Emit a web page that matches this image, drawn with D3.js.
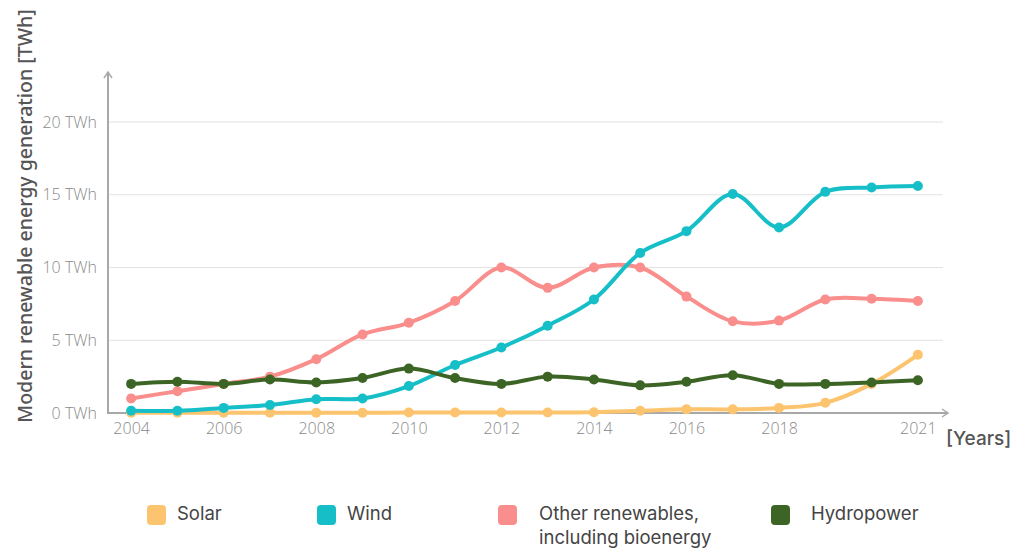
<!DOCTYPE html>
<html>
<head>
<meta charset="utf-8">
<script src="https://cdn.jsdelivr.net/npm/d3@7/dist/d3.min.js"></script>
<style>
  html, body { margin: 0; padding: 0; background: #ffffff; }
  svg { display: block; }
</style>
</head>
<body>
<svg id="chart" width="1011" height="548"></svg>
<script>
// Annual generation, TWh
const years = [2004, 2005, 2006, 2007, 2008, 2009, 2010, 2011, 2012,
               2013, 2014, 2015, 2016, 2017, 2018, 2019, 2020, 2021];
const solar = [0.02, 0.02, 0.02, 0.02, 0.02, 0.02, 0.03, 0.03, 0.04,
               0.04, 0.05, 0.15, 0.25, 0.25, 0.35, 0.7, 2.0, 4.0];
const wind = [0.15, 0.15, 0.35, 0.55, 0.95, 1.0, 1.85, 3.3, 4.5,
              6.0, 7.8, 11.0, 12.5, 15.05, 12.75, 15.2, 15.5, 15.6];
const other = [1.0, 1.5, 2.0, 2.5, 3.7, 5.4, 6.2, 7.7, 10.0,
               8.6, 10.0, 10.0, 8.0, 6.3, 6.35, 7.8, 7.85, 7.7];
const hydro = [2.0, 2.15, 2.0, 2.3, 2.1, 2.4, 3.05, 2.4, 2.0,
               2.5, 2.3, 1.9, 2.15, 2.6, 2.0, 2.0, 2.1, 2.25];

const xTickYears = [2004, 2006, 2008, 2010, 2012, 2014, 2016, 2018, 2021];
const yTickValues = [0, 5, 10, 15, 20];

const seriesNames = ["Solar", "Wind", "Other renewables,\nincluding bioenergy", "Hydropower"];
const seriesColors = ["#fcc46e", "#16bfc8", "#f98e8c", "#3c6525"];
const seriesValues = [solar, wind, other, hydro];
// stacking order of the lines (back to front)
const drawOrder = [0, 2, 1, 3];

const svg = d3.select("#chart");

const plot = { left: 108, right: 941, top: 72, bottom: 413 };

const x = d3.scaleLinear().domain([2003.5, 2021.5]).range([plot.left, plot.right]);
const y = d3.scaleLinear().domain([0, 20]).range([plot.bottom, 122]);

// gridlines
svg.append("g")
  .selectAll("line")
  .data(yTickValues.filter(v => v > 0))
  .join("line")
  .attr("x1", plot.left).attr("x2", 943)
  .attr("y1", d => y(d)).attr("y2", d => y(d))
  .attr("stroke", "#e2e2e2").attr("stroke-width", 1.2);

const tickFont = g => g.selectAll("text")
  .attr("font-family", "'Open Sans', sans-serif")
  .attr("font-size", 16)
  .attr("font-weight", 300)
  .attr("fill", "#8a8a8a");

// y tick labels
const yAxis = d3.axisLeft(y).tickValues(yTickValues).tickSize(0).tickPadding(11)
  .tickFormat(d => d + " TWh");
svg.append("g")
  .attr("transform", `translate(${plot.left},0)`)
  .call(yAxis)
  .call(g => g.select(".domain").remove())
  .call(tickFont);

// x tick labels
const xAxis = d3.axisBottom(x).tickValues(xTickYears).tickSize(0).tickPadding(10)
  .tickFormat(d3.format("d"));
svg.append("g")
  .attr("transform", `translate(0,${plot.bottom})`)
  .call(xAxis)
  .call(g => g.select(".domain").remove())
  .call(tickFont);

// axis lines with arrow heads
const axisColor = "#a8a8a8";
svg.append("line")
  .attr("x1", plot.left).attr("x2", plot.left)
  .attr("y1", plot.bottom + 1).attr("y2", plot.top)
  .attr("stroke", axisColor).attr("stroke-width", 2);
svg.append("path")
  .attr("d", `M${plot.left - 4},${plot.top + 6} L${plot.left},${plot.top} L${plot.left + 4},${plot.top + 6}`)
  .attr("fill", "none").attr("stroke", axisColor).attr("stroke-width", 1.5);
svg.append("line")
  .attr("x1", plot.left - 1).attr("x2", 948)
  .attr("y1", plot.bottom).attr("y2", plot.bottom)
  .attr("stroke", axisColor).attr("stroke-width", 2);
svg.append("path")
  .attr("d", `M942,${plot.bottom - 4} L948,${plot.bottom} L942,${plot.bottom + 4}`)
  .attr("fill", "none").attr("stroke", axisColor).attr("stroke-width", 1.5);

// lines and points
const line = d3.line()
  .x((d, i) => x(years[i]))
  .y(d => y(d))
  .curve(d3.curveCatmullRom.alpha(0.5));

const series = svg.append("g");
drawOrder.forEach(k => {
  const g = series.append("g");
  g.append("path")
    .datum(seriesValues[k])
    .attr("d", line)
    .attr("fill", "none")
    .attr("stroke", seriesColors[k])
    .attr("stroke-width", 4)
    .attr("stroke-linejoin", "round")
    .attr("stroke-linecap", "round");
  g.selectAll("circle")
    .data(seriesValues[k])
    .join("circle")
    .attr("cx", (d, i) => x(years[i]))
    .attr("cy", d => y(d))
    .attr("r", 5)
    .attr("fill", seriesColors[k]);
});

// axis titles
svg.append("text")
  .attr("transform", "translate(32,216) rotate(-90)")
  .attr("text-anchor", "middle")
  .attr("font-family", "'Noto Sans', sans-serif")
  .attr("font-size", 19.5)
  .attr("font-weight", 500)
  .attr("fill", "#555555")
  .text("Modern renewable energy generation [TWh]");

svg.append("text")
  .attr("x", 946).attr("y", 445)
  .attr("font-family", "Inter, sans-serif")
  .attr("font-size", 19)
  .attr("font-weight", 500)
  .attr("fill", "#555555")
  .text("[Years]");

// legend
const legendX = [147, 317, 498, 771];
const legendTextX = [177, 347, 539, 811];
const legend = svg.append("g");
seriesNames.forEach((name, k) => {
  legend.append("rect")
    .attr("x", legendX[k]).attr("y", 505)
    .attr("width", 19).attr("height", 20)
    .attr("rx", 4)
    .attr("fill", seriesColors[k]);
  const t = legend.append("text")
    .attr("x", legendTextX[k]).attr("y", 520)
    .attr("font-family", "Inter, sans-serif")
    .attr("font-size", 18.5)
    .attr("fill", "#444444");
  name.split("\n").forEach((part, j) => {
    t.append("tspan")
      .attr("x", legendTextX[k])
      .attr("dy", j === 0 ? 0 : 24)
      .text(part);
  });
});
</script>
</body>
</html>
